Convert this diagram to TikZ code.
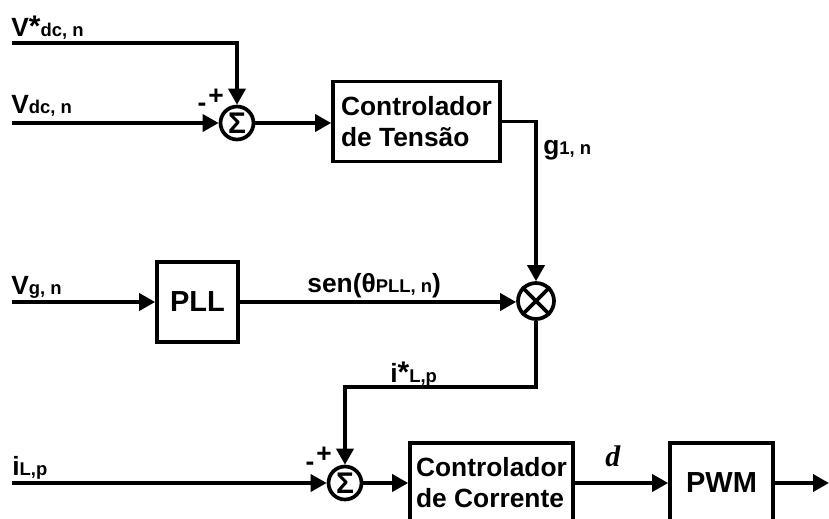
\documentclass[tikz,border=0pt]{standalone}
\usepackage{fontspec}
\setmainfont{Liberation Sans}
\newfontfamily\dfont{Liberation Serif}
\usetikzlibrary{arrows.meta,positioning,calc}
\newcommand{\lsub}[1]{{\fontsize{10.5}{10.5}\selectfont #1}}
\newcommand{\lstar}{{\fontsize{17}{17}\selectfont *}}

\begin{document}
\begin{tikzpicture}[
  x=0.02cm, y=-0.02cm,
  ctrlbox/.style={draw,line width=2.1pt,minimum width=#1,minimum height=1.6cm,
    inner sep=0pt,align=left,font=\fontsize{15}{17.6}\selectfont\bfseries},
  sumnode/.style={circle,draw,line width=2.1pt,minimum size=0.66cm,inner sep=0pt,
    font=\fontsize{17}{17}\selectfont\bfseries},
  wire/.style={line width=2.1pt},
  arr/.style={line width=2.1pt,-{Triangle[length=0.32cm,width=0.34cm]}},
  siglab/.style={anchor=base west,inner sep=0pt,font=\fontsize{15}{15}\selectfont\bfseries},
  sgn/.style={inner sep=0pt,font=\fontsize{15}{15}\selectfont\bfseries},
]
  \path[use as bounding box,clip] (0,0) rectangle (829,518);

  \node[ctrlbox=3.34cm] (ctrlv) at (416.5,121.5) {Controlador\\de Tensão};
  \node[ctrlbox=1.62cm,font=\fontsize{16.5}{18}\selectfont\bfseries] (pll) at (197.5,302) {PLL};
  \node[ctrlbox=3.26cm] (ctrli) at (491.5,483) {Controlador\\de Corrente};
  \node[ctrlbox=2.06cm,font=\fontsize{16.5}{18}\selectfont\bfseries] (pwm) at (721.5,483) {PWM};

  \node[sumnode] (sum1) at (237,123) {Σ};
  \node[sumnode,minimum size=0.72cm] (mult) at (536,301) {};
  \draw[wire] (mult.north west) -- (mult.south east)
              (mult.north east) -- (mult.south west);
  \node[sumnode] (sum2) at (345,483) {Σ};

  \coordinate (vref) at (12,43);
  \coordinate (vdc) at (12,123);
  \coordinate (vg) at (12,302);
  \coordinate (il) at (12,483);
  \coordinate (iref) at (536,387);
  \coordinate (out) at (829,483);

  \draw[arr] (vref) -| (sum1.north);
  \draw[arr] (vdc) -- (sum1.west);
  \draw[arr] (sum1.east) -- (sum1.east -| ctrlv.west);
  \draw[arr] (ctrlv.east) -| (mult.north);
  \draw[arr] (vg) -- (pll.west);
  \draw[arr] (pll.east) -- (pll.east -| mult.west);
  \draw[arr] (mult.south) -- (iref) -| (sum2.north);
  \draw[arr] (il) -- (sum2.west);
  \draw[arr] (sum2.east) -- (ctrli.west);
  \draw[arr] (ctrli.east) -- (pwm.west);
  \draw[arr] (pwm.east) -- (out);

  \node[siglab] (lvref) at (11,36) {V\lstar\lsub{dc, n}};
  \node[siglab] (lvdc) at (11,113) {V\lsub{dc, n}};
  \node[siglab] (lvg) at (11,294) {V\lsub{g, n}};
  \node[siglab] (lil) at (12,475) {i\lsub{L,p}};
  \node[siglab] (lg) at (543,154) {g\lsub{1, n}};
  \node[siglab] (lsen) at (307,292) {sen(θ\lsub{PLL, n})};
  \node[siglab] (liref) at (390,382) {i\lstar\lsub{L,p}};
  \node[siglab] (ld) at (605,466) {\dfont\fontsize{17}{17}\selectfont\bfseries\itshape d};

  \node[sgn] (m1) at (202,107) {-};
  \node[sgn] (p1) at (216,97) {+};
  \node[sgn] (m2) at (310,466) {-};
  \node[sgn] (p2) at (324,455) {+};
\end{tikzpicture}
\end{document}
